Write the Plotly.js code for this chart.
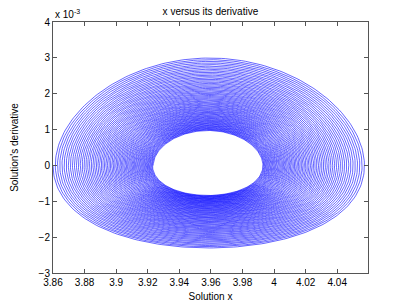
<!DOCTYPE html>
<html>
<head>
<meta charset="utf-8">
<script src="https://cdn.plot.ly/plotly-3.0.1.min.js"></script>
<style>html,body{margin:0;padding:0;background:#fff;}#chart{width:407px;height:306px;}</style>
</head>
<body>
<div id="chart"></div>
<script>
// Envelope of the phase-plane spiral (y in units of 1e-3)
const envelopeNames = ['outer loop', 'inner loop'];
const xMinVals = [3.8600, 3.9235];
const xMaxVals = [4.0580, 3.9927];
const yMaxVals = [3.03, 0.97];
const yMinVals = [-2.31, -0.83];
const loopCounts = [70];
const xTickVals = [3.86, 3.88, 3.9, 3.92, 3.94, 3.96, 3.98, 4, 4.02, 4.04];
const yTickVals = [-3, -2, -1, 0, 1, 2, 3, 4];

// Build the trajectory: each loop passes through x-extremes at zero derivative
const nLoops = loopCounts[0];
const perLoop = 240;
const cxO = (xMinVals[0] + xMaxVals[0]) / 2, cxI = (xMinVals[1] + xMaxVals[1]) / 2;
const aO = (xMaxVals[0] - xMinVals[0]) / 2, aI = (xMaxVals[1] - xMinVals[1]) / 2;
const bO = (yMaxVals[0] - yMinVals[0]) / 2, bI = (yMaxVals[1] - yMinVals[1]) / 2;
const cO = (yMaxVals[0] + yMinVals[0]) / 2, cI = (yMaxVals[1] + yMinVals[1]) / 2;
const xs = [], ys = [];
const total = nLoops * perLoop;
for (let i = 0; i <= total; i++) {
  const f = i / total;              // 0 = outer, 1 = inner
  const t = 2 * Math.PI * i / perLoop;
  const g = (Math.pow(aI / aO, f) * aO - aO) / (aI - aO); // geometric blend 0..1
  const a = aO + (aI - aO) * g;
  const b = bO + (bI - bO) * g;
  const c = cO + (cI - cO) * g;
  const cx = cxO + (cxI - cxO) * g;
  const s = Math.sin(t);
  xs.push(cx - a * Math.cos(t));
  ys.push(-b * s + c * s * s);
}

const fontBase = {family: 'Liberation Sans, Arial, sans-serif', size: 10, color: '#000'};
const axisCommon = {
  showline: true, mirror: 'ticks', linecolor: '#555', linewidth: 1,
  ticks: 'inside', ticklen: 4, tickcolor: '#555', tickwidth: 1,
  showgrid: false, zeroline: false,
  tickfont: fontBase
};

const layout = {
  width: 407, height: 306,
  margin: {l: 53, r: 39, t: 22, b: 33},
  paper_bgcolor: '#fff', plot_bgcolor: '#fff',
  showlegend: false,
  title: {text: 'x versus its derivative', x: 0.517, xanchor: 'center', y: 0.975, yanchor: 'top', font: fontBase},
  xaxis: Object.assign({}, axisCommon, {
    range: [3.86, 4.0595], tickvals: xTickVals,
    title: {text: 'Solution x', standoff: 5, font: fontBase}
  }),
  yaxis: Object.assign({}, axisCommon, {
    range: [-3, 4], tickvals: yTickVals,
    title: {text: "Solution's derivative", standoff: 18, font: fontBase}
  }),
  annotations: [{
    xref: 'paper', yref: 'paper', x: 0, y: 1, xanchor: 'left', yanchor: 'bottom',
    showarrow: false, text: 'x 10<sup>-3</sup>', font: fontBase
  }]
};

Plotly.newPlot('chart', [{
  x: xs, y: ys, type: 'scatter', mode: 'lines',
  line: {color: 'rgb(0,0,255)', width: 0.6},
  hoverinfo: 'skip'
}], layout, {staticPlot: true, displayModeBar: false});
</script>
</body>
</html>
